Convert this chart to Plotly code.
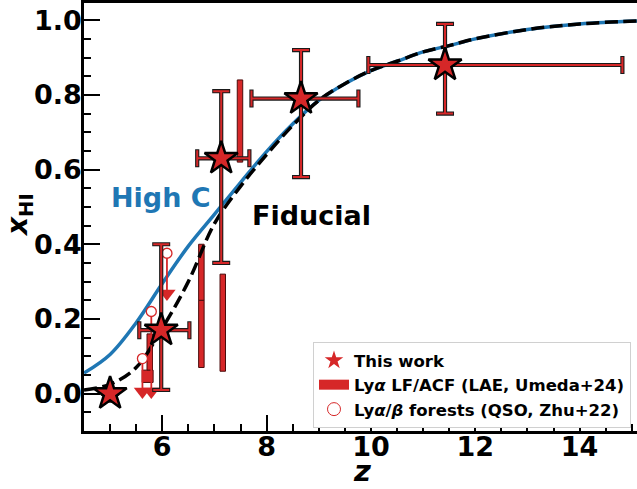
import plotly.graph_objects as go

RED = "#d62728"
BLUE = "#1f77b4"
FONT = "DejaVu Sans"

# --- model curves: neutral fraction vs redshift ---
z_curve = [4.5, 5.0, 5.5, 6.0, 6.5, 7.0, 7.5, 8.0, 8.5, 9.0, 9.5, 10.0,
           10.5, 11.0, 11.5, 12.0, 13.0, 14.0, 15.1]
xhi_high_c = [0.055, 0.105, 0.19, 0.295, 0.395, 0.48, 0.565, 0.648, 0.722,
              0.785, 0.83, 0.865, 0.89, 0.915, 0.932, 0.95, 0.975, 0.99, 0.998]
xhi_fiducial = [0.01, 0.025, 0.07, 0.175, 0.30, 0.455, 0.555, 0.64, 0.718,
                0.785, 0.83, 0.865, 0.89, 0.915, 0.932, 0.95, 0.975, 0.99, 0.998]

# --- this work ---
tw_z = [5.0, 5.98, 7.13, 8.66, 11.42]
tw_xhi = [0.0, 0.17, 0.63, 0.79, 0.88]
tw_xhi_up = [0.0, 0.23, 0.18, 0.13, 0.11]
tw_xhi_lo = [0.0, 0.16, 0.28, 0.21, 0.13]
tw_z_up = [0.0, 0.54, 0.54, 1.10, 3.40]
tw_z_lo = [0.0, 0.42, 0.46, 0.95, 1.47]

# --- Lya LF/ACF ranges (LAE, Umeda+24) ---
um_z = [5.72, 5.76, 6.75, 6.75, 7.16, 7.49]
um_lo = [0.03, 0.063, 0.07, 0.25, 0.06, 0.62]
um_hi = [0.063, 0.16, 0.25, 0.40, 0.32, 0.84]
um_w = [0.21, 0.105, 0.105, 0.105, 0.105, 0.105]

# --- Lya/beta forest upper limits (QSO, Zhu+22) ---
zhu_z = [5.62, 5.79, 6.09]
zhu_ul = [0.094, 0.22, 0.376]
zhu_len = [0.088, 0.214, 0.108]

fig = go.Figure()

fig.add_trace(go.Bar(
    x=um_z, base=um_lo, y=[h - l for h, l in zip(um_hi, um_lo)], width=um_w,
    marker=dict(color=RED, line=dict(color="#4a0c0c", width=1)),
    showlegend=False, hoverinfo="skip"))

fig.add_trace(go.Scatter(
    x=z_curve, y=xhi_high_c, mode="lines", line=dict(color=BLUE, width=3.5, shape="spline"),
    showlegend=False))
fig.add_trace(go.Scatter(
    x=z_curve, y=xhi_fiducial, mode="lines",
    line=dict(color="black", width=3.5, dash="13px,5.5px", shape="spline"),
    showlegend=False))

# upper-limit arrows
fig.add_trace(go.Scatter(
    x=zhu_z, y=[u - l for u, l in zip(zhu_ul, zhu_len)], mode="markers",
    marker=dict(symbol="triangle-down", size=15, color=RED, line=dict(width=0)),
    showlegend=False))
fig.add_trace(go.Scatter(
    x=zhu_z, y=zhu_ul, mode="markers",
    error_y=dict(type="data", symmetric=False, array=[0] * 3, arrayminus=zhu_len,
                 color=RED, thickness=1.8, width=0),
    marker=dict(symbol="circle", size=10, color="white", line=dict(color=RED, width=1.3)),
    showlegend=False))

# error bars with a dark outline
for col, th, cap in (("#1a1a1a", 4.2, 9), (RED, 2.0, 8)):
    fig.add_trace(go.Scatter(
        x=tw_z, y=tw_xhi, mode="markers", marker=dict(size=1, opacity=0),
        error_y=dict(type="data", symmetric=False, array=tw_xhi_up, arrayminus=tw_xhi_lo,
                     color=col, thickness=th, width=cap),
        error_x=dict(type="data", symmetric=False, array=tw_z_up, arrayminus=tw_z_lo,
                     color=col, thickness=th, width=cap),
        showlegend=False, hoverinfo="skip"))

fig.add_trace(go.Scatter(
    x=tw_z, y=tw_xhi, mode="markers",
    marker=dict(symbol="star", size=25, color=RED, line=dict(color="black", width=2.5)),
    showlegend=False))

# legend entries
fig.add_trace(go.Scatter(
    x=[None], y=[None], mode="markers", name="<b>This work</b>",
    marker=dict(symbol="star", size=14, color=RED, line=dict(width=0))))
fig.add_trace(go.Scatter(
    x=[None], y=[None], mode="lines", name="<b>Ly<i>α</i> LF/ACF (LAE, Umeda+24)</b>",
    line=dict(color=RED, width=10)))
fig.add_trace(go.Scatter(
    x=[None], y=[None], mode="markers", name="<b>Ly<i>α</i>/<i>β</i> forests (QSO, Zhu+22)</b>",
    marker=dict(symbol="circle", size=13, color="white", line=dict(color=RED, width=1))))

axis_common = dict(
    showline=True, linecolor="black", linewidth=2.5, showgrid=False, zeroline=False,
    ticks="inside", ticklen=16, tickwidth=2.2, tickcolor="black",
    tickfont=dict(family=FONT, size=27, color="black", weight="bold"),
)
fig.update_xaxes(range=[4.5, 15.1], dtick=2, tick0=0, mirror=True, ticklabelstandoff=-10,
                 minor=dict(ticks="inside", ticklen=7, tickwidth=1.6, dtick=0.5, tickcolor="black"),
                 **axis_common)
fig.update_yaxes(range=[-0.1, 1.046], dtick=0.2, tick0=0, tickformat=".1f", ticklabelstandoff=-6,
                 minor=dict(ticks="inside", ticklen=7, tickwidth=1.6, dtick=0.05, tickcolor="black"),
                 **axis_common)

fig.add_annotation(x=5.98, y=0.525, text="<b>High C</b>", showarrow=False,
                   font=dict(family=FONT, size=27, color=BLUE))
fig.add_annotation(x=8.87, y=0.477, text="<b>Fiducial</b>", showarrow=False,
                   font=dict(family=FONT, size=27, color="black"))
fig.add_annotation(xref="paper", yref="paper", x=(362 - 84) / 553, y=-(470 - 430) / 428,
                   xanchor="center", yanchor="middle",
                   text="<b><i>z</i></b>", showarrow=False,
                   font=dict(family=FONT, size=29, color="black"))
fig.add_annotation(xref="paper", yref="paper", x=-(84 - 19) / 553, y=(430 - 214) / 428,
                   xanchor="center", yanchor="middle",
                   text="<b><i>x</i></b><sub><b>HI</b></sub>", showarrow=False, textangle=-90,
                   font=dict(family=FONT, size=28, color="black"))

fig.update_layout(
    width=637, height=489,
    margin=dict(l=84, r=0, t=3, b=58, pad=0),
    plot_bgcolor="white", paper_bgcolor="white",
    barmode="overlay",
    legend=dict(x=(631 - 84) / 553, xanchor="right", y=(430 - 341) / 428, yanchor="top",
                bgcolor="white", bordercolor="#d0d0d0", borderwidth=1,
                font=dict(family=FONT, size=16.5, color="black")),
)

fig.write_html("out.html")
